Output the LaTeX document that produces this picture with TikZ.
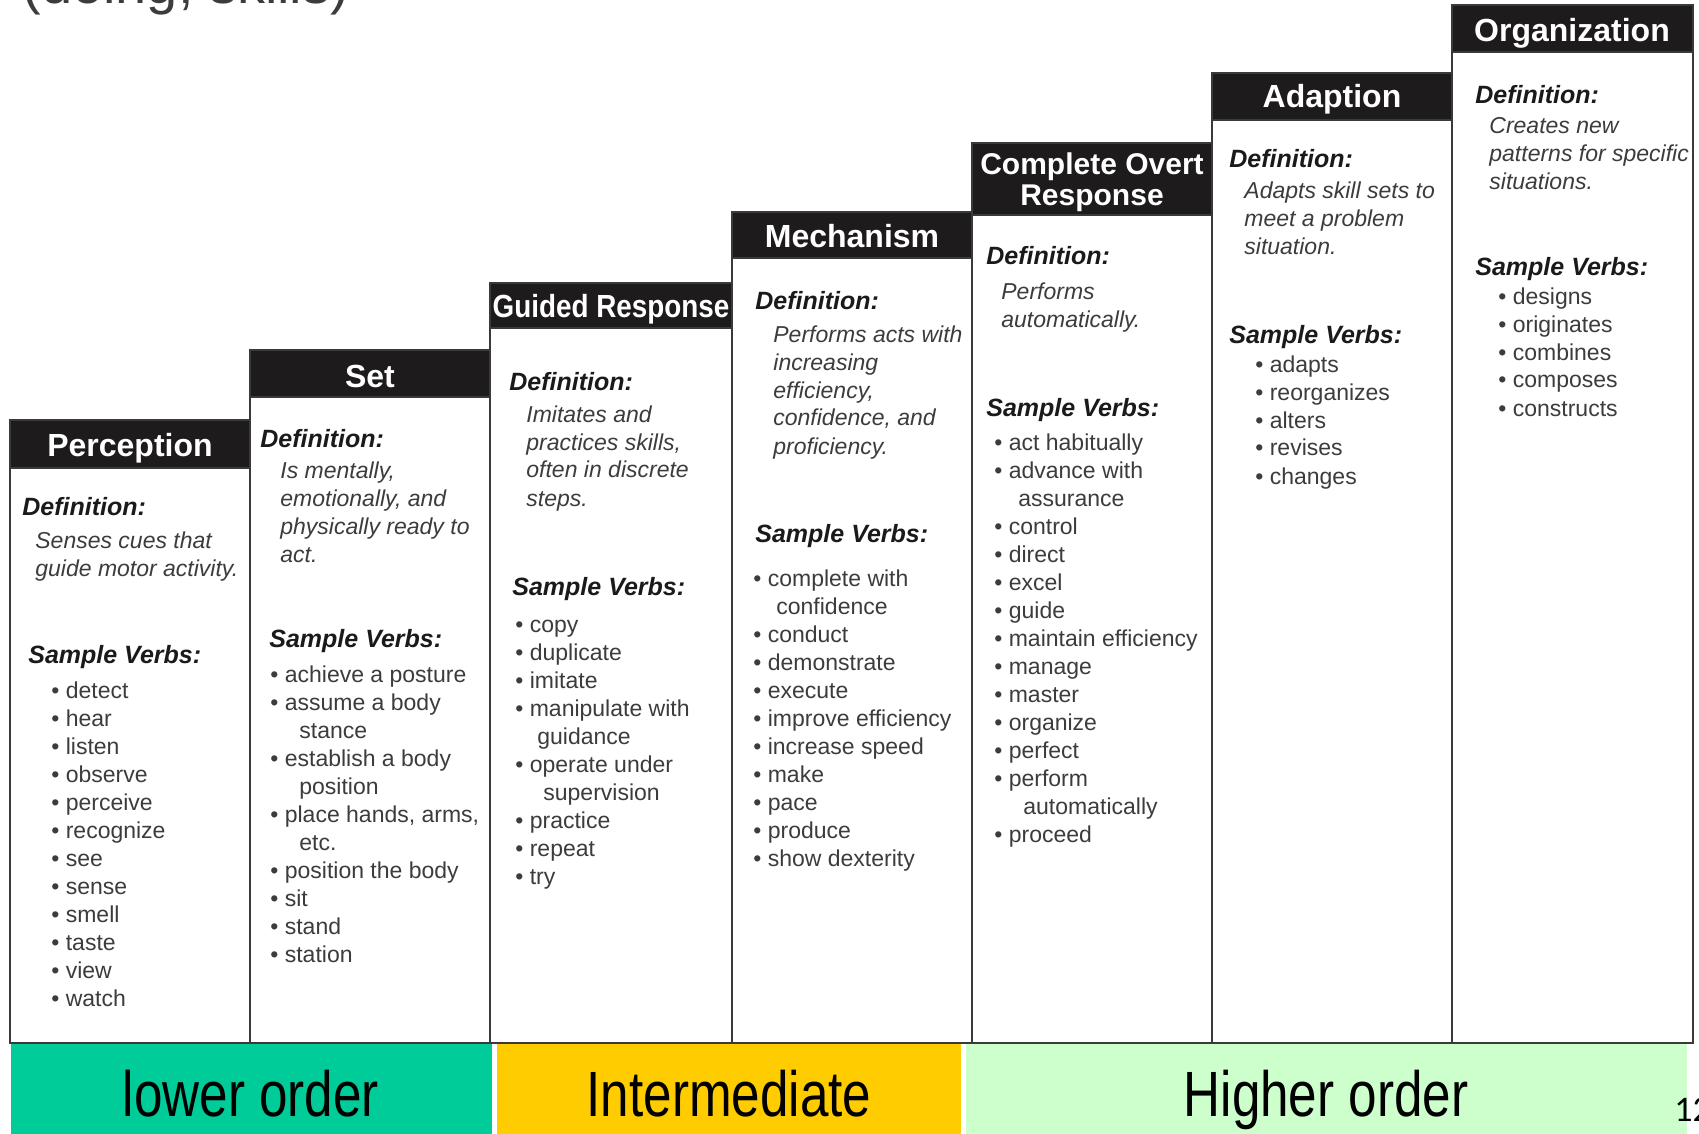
\documentclass[tikz,border=0pt]{standalone}
\usepackage{fontspec}
\setmainfont{Liberation Sans}
\newfontfamily\numfont{Carlito}
\usepackage{graphicx}

\definecolor{headblack}{HTML}{1E1B1C}
\definecolor{framegray}{HTML}{3A3A3A}
\definecolor{bodygray}{HTML}{3C3C3C}
\definecolor{labelblack}{HTML}{1A1A1A}
\definecolor{lowgreen}{HTML}{00CC99}
\definecolor{midyellow}{HTML}{FFCC00}
\definecolor{highgreen}{HTML}{CCFFCC}

\newcommand{\verbitem}[1]{\textbullet\ #1}

\tikzset{
  colframe/.style={draw=framegray, line width=1.2pt, fill=white},
  headbox/.style={fill=headblack, draw=framegray, line width=1.2pt},
  headtext/.style={text=white, inner sep=0, font=\fontsize{16}{18}\selectfont\bfseries},
  deflabel/.style={anchor=base west, inner sep=0, text=labelblack, font=\fontsize{12.5}{15}\selectfont\bfseries\itshape},
  deftext/.style={anchor=north west, inner sep=0, align=left, text=bodygray, font=\fontsize{11.5}{14}\selectfont\itshape},
  verblist/.style={anchor=north west, inner sep=0, align=left, text=bodygray, font=\fontsize{11.5}{14}\selectfont},
  bandtext/.style={anchor=base, inner sep=0, text=black, font=\fontsize{32}{36}\selectfont}
}

\begin{document}
\begin{tikzpicture}[x=0.5pt, y=-0.5pt]
    \clip (0,0) rectangle (1699,1134);
    \useasboundingbox (0,0) rectangle (1699,1134);

    % Slide title, cut by the top edge
    \node[anchor=base west, inner sep=0, text=bodygray, font=\fontsize{28}{32}\selectfont] (title) at (22,4) {(doing, skills)};

    % Column frames
    \draw[colframe] (10,420) rectangle (250,1043);
    \draw[colframe] (250,350) rectangle (490,1043);
    \draw[colframe] (490,283) rectangle (732,1043);
    \draw[colframe] (732,212) rectangle (972,1043);
    \draw[colframe] (972,143) rectangle (1212,1043);
    \draw[colframe] (1212,73) rectangle (1452,1043);
    \draw[colframe] (1452,5) rectangle (1693,1043);

    % Header bars
    \filldraw[headbox] (10,420) rectangle (250,468);
    \filldraw[headbox] (250,350) rectangle (490,397);
    \filldraw[headbox] (490,283) rectangle (732,328);
    \filldraw[headbox] (732,212) rectangle (972,258);
    \filldraw[headbox] (972,143) rectangle (1212,215);
    \filldraw[headbox] (1212,73) rectangle (1452,120);
    \filldraw[headbox] (1452,5) rectangle (1693,52);

    \node[headtext] (hPer) at (130,448) {Perception};
    \node[headtext] (hSet) at (370,376) {Set};
    \node[headtext] (hGui) at (611,309) {\scalebox{0.87}[1]{Guided Response}};
    \node[headtext] (hMec) at (852,236) {Mechanism};
    \node[headtext, align=center, font=\fontsize{15}{15.5}\selectfont\bfseries] (hCor) at (1092,182) {Complete Overt\\Response};
    \node[headtext] (hAda) at (1332,99) {Adaption};
    \node[headtext] (hOrg) at (1572,33) {Organization};

    % Perception
    \node[deflabel] (dPer) at (22,516) {Definition:};
    \node[deftext] (tPer) at (35,528) {\strut Senses cues that\\guide motor activity.};
    \node[deflabel] (sPer) at (28,663) {Sample Verbs:};
    \node[verblist] (vPer) at (51,678) {\strut\verbitem{detect}\\\verbitem{hear}\\\verbitem{listen}\\
      \verbitem{observe}\\\verbitem{perceive}\\\verbitem{recognize}\\\verbitem{see}\\
      \verbitem{sense}\\\verbitem{smell}\\\verbitem{taste}\\\verbitem{view}\\\verbitem{watch}};

    % Set
    \node[deflabel] (dSet) at (260,448) {Definition:};
    \node[deftext] (tSet) at (280,458) {\strut Is mentally,\\emotionally, and\\physically ready to\\act.};
    \node[deflabel] (sSet) at (269,647) {Sample Verbs:};
    \node[verblist] (vSet) at (270,662) {\strut\verbitem{achieve a posture}\\\verbitem{assume a body}\\
      \hspace*{14.5pt}stance\\\verbitem{establish a body}\\\hspace*{14.5pt}position\\
      \verbitem{place hands, arms,}\\\hspace*{14.5pt}etc.\\\verbitem{position the body}\\
      \verbitem{sit}\\\verbitem{stand}\\\verbitem{station}};

    % Guided Response
    \node[deflabel] (dGui) at (509,391) {Definition:};
    \node[deftext] (tGui) at (526,402) {\strut Imitates and\\practices skills,\\often in discrete\\steps.};
    \node[deflabel] (sGui) at (512,595) {Sample Verbs:};
    \node[verblist] (vGui) at (515,612) {\strut\verbitem{copy}\\\verbitem{duplicate}\\\verbitem{imitate}\\
      \verbitem{manipulate with}\\\hspace*{11pt}guidance\\\verbitem{operate under}\\
      \hspace*{14pt}supervision\\\verbitem{practice}\\\verbitem{repeat}\\\verbitem{try}};

    % Mechanism
    \node[deflabel] (dMec) at (755,310) {Definition:};
    \node[deftext] (tMec) at (773,322) {\strut Performs acts with\\increasing\\efficiency,\\confidence, and\\proficiency.};
    \node[deflabel] (sMec) at (755,542) {Sample Verbs:};
    \node[verblist] (vMec) at (753,566) {\strut\verbitem{complete with}\\\hspace*{11.5pt}confidence\\
      \verbitem{conduct}\\\verbitem{demonstrate}\\\verbitem{execute}\\\verbitem{improve efficiency}\\
      \verbitem{increase speed}\\\verbitem{make}\\\verbitem{pace}\\\verbitem{produce}\\
      \verbitem{show dexterity}};

    % Complete Overt Response
    \node[deflabel] (dCor) at (986,265) {Definition:};
    \node[deftext] (tCor) at (1001,280) {\strut Performs\\automatically.};
    \node[deflabel] (sCor) at (986,416) {Sample Verbs:};
    \node[verblist] (vCor) at (994,430) {\strut\verbitem{act habitually}\\\verbitem{advance with}\\
      \hspace*{12pt}assurance\\\verbitem{control}\\\verbitem{direct}\\\verbitem{excel}\\
      \verbitem{guide}\\\verbitem{maintain efficiency}\\\verbitem{manage}\\\verbitem{master}\\
      \verbitem{organize}\\\verbitem{perfect}\\\verbitem{perform}\\\hspace*{14.5pt}automatically\\
      \verbitem{proceed}};

    % Adaption
    \node[deflabel] (dAda) at (1229,168) {Definition:};
    \node[deftext] (tAda) at (1244,179) {\strut Adapts skill sets to\\meet a problem\\situation.};
    \node[deflabel] (sAda) at (1229,344) {Sample Verbs:};
    \node[verblist] (vAda) at (1255,352) {\strut\verbitem{adapts}\\\verbitem{reorganizes}\\\verbitem{alters}\\
      \verbitem{revises}\\\verbitem{changes}};

    % Organization
    \node[deflabel] (dOrg) at (1475,104) {Definition:};
    \node[deftext] (tOrg) at (1489,114) {\strut Creates new\\patterns for specific\\situations.};
    \node[deflabel] (sOrg) at (1475,276) {Sample Verbs:};
    \node[verblist] (vOrg) at (1498,284) {\strut\verbitem{designs}\\\verbitem{originates}\\\verbitem{combines}\\
      \verbitem{composes}\\\verbitem{constructs}};

    % Order bands
    \fill[lowgreen] (11,1044) rectangle (492,1134);
    \fill[midyellow] (497,1044) rectangle (961,1134);
    \fill[highgreen] (966,1044) rectangle (1687,1134);
    \node[bandtext] (low) at (251,1116) {\scalebox{0.8}[1]{lower order}};
    \node[bandtext] (mid) at (729,1116) {\scalebox{0.8}[1]{Intermediate}};
    \node[bandtext] (high) at (1326,1116) {\scalebox{0.8}[1]{Higher order}};

    % Slide number
    \node[anchor=base west, inner sep=0, font=\numfont\fontsize{18}{20}\selectfont] (pgnum) at (1674,1121) {12};
\end{tikzpicture}
\end{document}
